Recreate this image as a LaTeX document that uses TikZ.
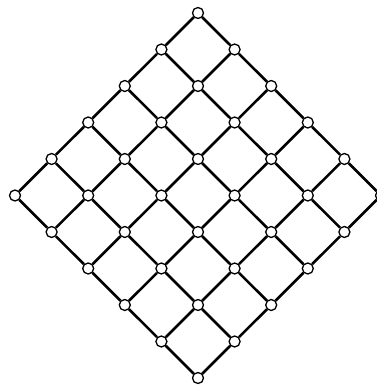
\documentclass[tikz,border=0pt]{standalone}
\begin{document}
\begin{tikzpicture}[x=1pt,y=1pt,
  vtx/.style={circle,draw=black,fill=white,line width=1.3pt,minimum size=11pt,inner sep=0pt},
  edge/.style={draw=black,line width=2.6pt}]
\useasboundingbox (0,0) rectangle (377,386);
\clip (0,0) rectangle (377,386);
\foreach \i in {0,...,5}{
  \foreach \j in {0,...,5}{
    \node[vtx] (n-\i-\j) at ({198+36.6*(\j-\i)},{386-13-36.5*(\i+\j)}) {};
  }
}
\foreach \i in {0,...,5}{
  \foreach \j [count=\k from 1] in {0,...,4}{
    \draw[edge] (n-\i-\j) -- (n-\i-\k);
    \draw[edge] (n-\j-\i) -- (n-\k-\i);
  }
}
\end{tikzpicture}
\end{document}
